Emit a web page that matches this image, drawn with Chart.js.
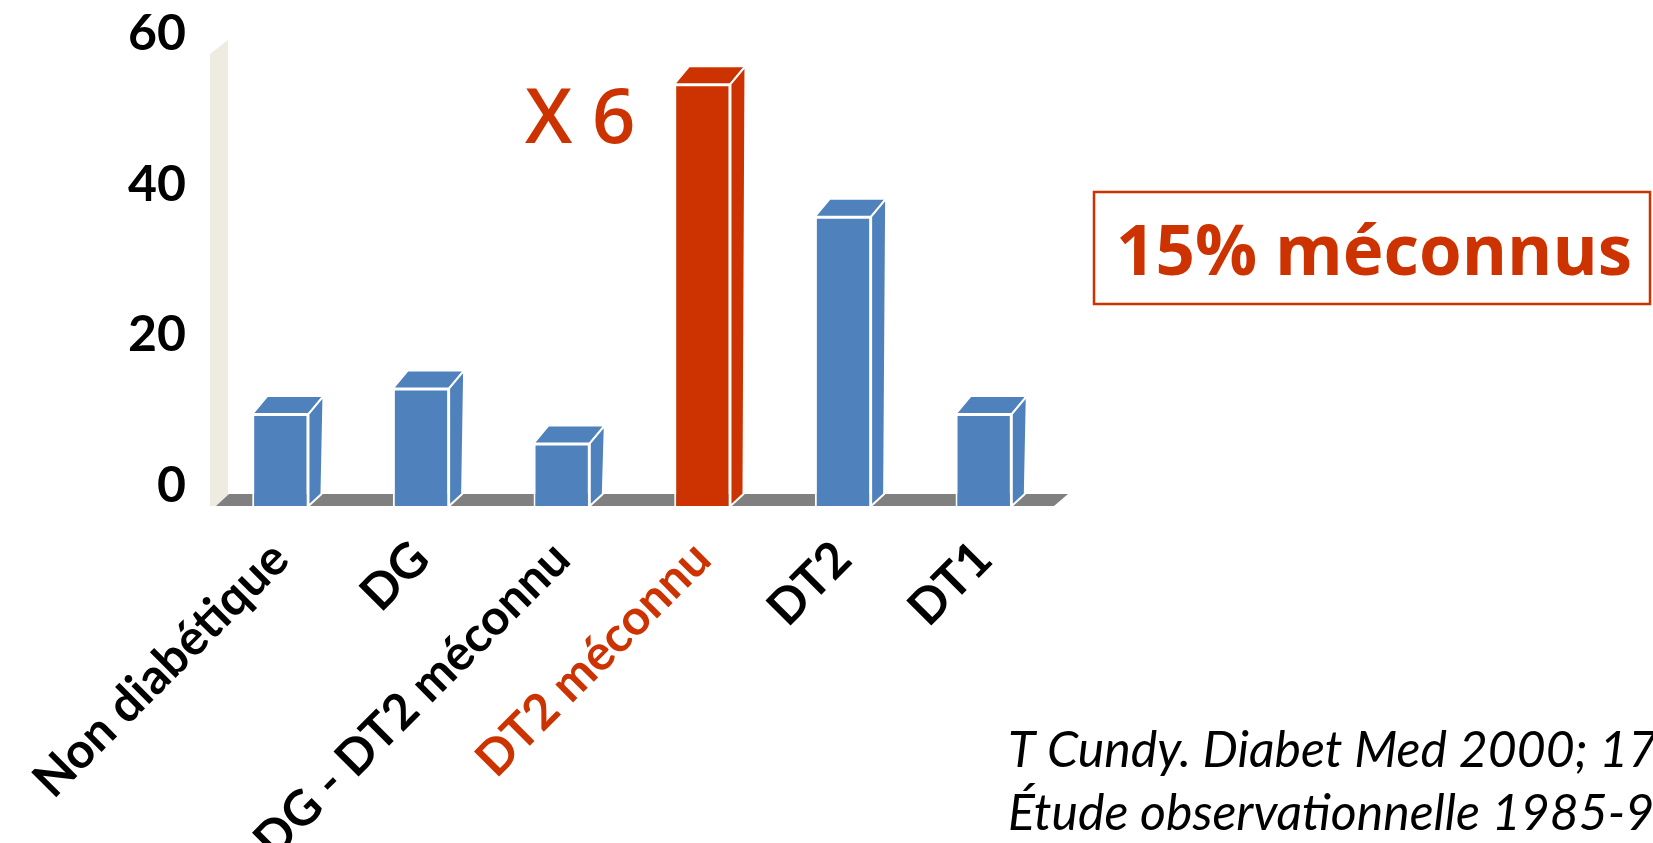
<!DOCTYPE html>
<html>
<head>
<meta charset="utf-8">
<script src="https://cdn.jsdelivr.net/npm/chart.js@4.4.1/dist/chart.umd.min.js"></script>
<style>
  html, body { margin: 0; padding: 0; background: #fff; }
  #wrap { width: 1653px; height: 843px; position: relative; }
</style>
</head>
<body>
<div id="wrap"><canvas id="chart"></canvas></div>
<script>
// categories and values
const categories = ["Non diabétique", "DG", "DG - DT2 méconnu", "DT2 méconnu", "DT2", "DT1"];
const values = [12.2, 15.6, 8.3, 56, 38.4, 12.2];
const yTicks = [0, 20, 40, 60];

const BLUE = "#4F81BD";
const RED = "#CC3300";
const barColors = [BLUE, BLUE, BLUE, RED, BLUE, BLUE];
const labelColors = ["#000", "#000", "#000", RED, "#000", "#000"];

// depth of the 3D boxes (top edge and floor edge)
const depthTop = { dx: 15, dy: -18 };
const depthBase = { dx: 13, dy: -12 };

// wall, floor and the top/side faces of each column
const box3d = {
  id: "box3d",
  beforeDatasetsDraw(chart) {
    const { ctx, chartArea: a } = chart;
    ctx.save();
    ctx.fillStyle = "#EEECE1";
    ctx.beginPath();
    ctx.moveTo(a.left, a.top);
    ctx.lineTo(a.left + 18, a.top - 14);
    ctx.lineTo(a.left + 18, a.bottom);
    ctx.lineTo(a.left, a.bottom);
    ctx.closePath();
    ctx.fill();

    ctx.fillStyle = "#808080";
    ctx.beginPath();
    ctx.moveTo(a.left + 6, a.bottom);
    ctx.lineTo(a.right, a.bottom);
    ctx.lineTo(a.right + depthBase.dx + 1, a.bottom + depthBase.dy);
    ctx.lineTo(a.left + 6 + depthBase.dx, a.bottom + depthBase.dy);
    ctx.closePath();
    ctx.fill();
    ctx.restore();
  },
  afterDatasetsDraw(chart) {
    const { ctx } = chart;
    const meta = chart.getDatasetMeta(0);
    ctx.save();
    ctx.strokeStyle = "#fff";
    ctx.lineWidth = 2;
    meta.data.forEach((bar, i) => {
      const l = bar.x - bar.width / 2;
      const r = bar.x + bar.width / 2;
      const top = bar.y;
      const base = bar.base;
      ctx.fillStyle = barColors[i];

      // top face
      ctx.beginPath();
      ctx.moveTo(l, top);
      ctx.lineTo(l + depthTop.dx, top + depthTop.dy);
      ctx.lineTo(r + depthTop.dx, top + depthTop.dy);
      ctx.lineTo(r, top);
      ctx.closePath();
      ctx.fill();
      ctx.stroke();

      // side face
      ctx.beginPath();
      ctx.moveTo(r, top);
      ctx.lineTo(r + depthTop.dx, top + depthTop.dy);
      ctx.lineTo(r + depthBase.dx, base + depthBase.dy);
      ctx.lineTo(r, base);
      ctx.closePath();
      ctx.fill();
      ctx.stroke();
    });
    ctx.restore();
  }
};

// "X 6", the framed note and the reference lines
const notes = {
  id: "notes",
  afterDraw(chart) {
    const { ctx } = chart;
    ctx.save();
    ctx.fillStyle = RED;
    ctx.textBaseline = "alphabetic";
    ctx.textAlign = "left";
    ctx.font = '600 76px "Open Sans"';
    ctx.fillText("X 6", 525, 143);

    ctx.strokeStyle = RED;
    ctx.lineWidth = 2.5;
    ctx.strokeRect(1094, 192, 556, 112);
    ctx.textAlign = "center";
    ctx.font = 'bold 69px "Open Sans"';
    ctx.fillText("15% méconnus", 1374, 275);

    ctx.fillStyle = "#000";
    ctx.textAlign = "left";
    ctx.font = "italic 50px Lato";
    ctx.fillText("T Cundy. Diabet Med 2000; 17", 1008, 767);
    ctx.fillText("Étude observationnelle 1985-9", 1008, 830);
    ctx.restore();
  }
};

const chart = new Chart(document.getElementById("chart"), {
  type: "bar",
  data: {
    labels: categories,
    datasets: [{
      data: values,
      backgroundColor: barColors,
      borderColor: "#fff",
      borderWidth: 2,
      borderSkipped: "bottom",
      categoryPercentage: 1,
      barPercentage: 0.4
    }]
  },
  options: {
    responsive: true,
    maintainAspectRatio: false,
    animation: false,
    layout: { padding: { top: 53, right: 599, bottom: 0, left: 0 } },
    plugins: {
      legend: { display: false },
      tooltip: { enabled: false }
    },
    scales: {
      x: {
        grid: { display: false, drawTicks: false },
        border: { display: false },
        afterFit: (s) => {
          s.height = 337;
          s.paddingLeft = 0;
          s.paddingRight = 0;
        },
        ticks: {
          autoSkip: false,
          minRotation: 45,
          maxRotation: 45,
          padding: 24,
          color: (c) => labelColors[c.index],
          font: { family: "Lato", weight: "bold", size: 49 }
        }
      },
      y: {
        min: 0,
        max: 60,
        grid: { display: false, drawTicks: false },
        border: { display: false },
        afterFit: (s) => { s.width = 210; },
        afterBuildTicks: (s) => { s.ticks = yTicks.map(v => ({ value: v })); },
        ticks: {
          padding: 24,
          labelOffset: -20,
          color: "#000",
          font: { family: "Lato", weight: "bold", size: 50 }
        }
      }
    }
  },
  plugins: [box3d, notes]
});
</script>
</body>
</html>
